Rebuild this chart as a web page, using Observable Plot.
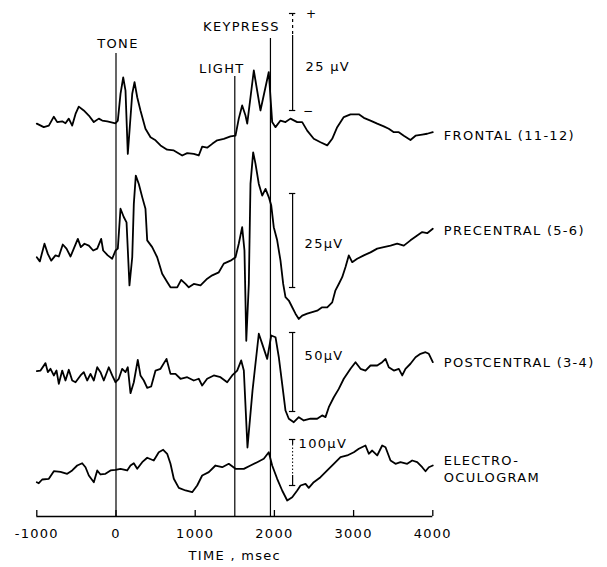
<!DOCTYPE html>
<html><head><meta charset="utf-8">
<script src="https://cdn.jsdelivr.net/npm/d3@7"></script>
<script src="https://cdn.jsdelivr.net/npm/@observablehq/plot@0.6"></script>
<style>
html,body{margin:0;padding:0;background:#fff}
#chart svg{display:block}
#chart svg text{letter-spacing:1.3px}
</style></head><body><div id="chart"></div>
<script>
// ---- data ----
const xTicks = [-1000, 0, 1000, 2000, 3000, 4000];
const eventTimes = [0, 1500, 1950];
const eventLabels = ["TONE", "LIGHT", "KEYPRESS"];
const channelNames = [["FRONTAL (11-12)"], ["PRECENTRAL (5-6)"], ["POSTCENTRAL (3-4)"], ["ELECTRO-", "OCULOGRAM"]];
const calibUv = [25, 25, 50, 100];
const calibText = ["25 μV", "25μV", "50μV", "100μV"];

// [time ms, µV]
const frontal = [[-1000,-0.3],[-912,-1.2],[-848,-0.8],[-785,1.5],[-742,0.1],[-679,0.3],[-638,-0.2],[-596,1.0],[-553,-0.8],[-511,2.2],[-470,4.1],[-407,3.1],[-343,1.8],[-280,0.1],[-217,1.0],[-174,0.5],[-111,0.3],[-6,-0.2],[23,0.5],[57,7.4],[91,11.6],[120,8.2],[149,-8.1],[174,-1.2],[205,7.4],[234,10.4],[268,6.5],[309,3.1],[372,-1.6],[436,-3.8],[499,-4.6],[562,-5.9],[646,-7.0],[730,-7.2],[836,-8.5],[899,-7.9],[982,-8.1],[1045,-8.5],[1088,-6.2],[1151,-6.5],[1215,-5.5],[1278,-4.6],[1361,-4.2],[1446,-3.6],[1509,-3.4],[1550,1.0],[1593,4.4],[1635,1.8],[1657,-0.3],[1740,13.4],[1824,3.1],[1929,13.0],[1972,0.1],[2014,-1.2],[2077,0.5],[2140,0.1],[2203,1.0],[2288,0.1],[2351,0.1],[2414,-2.1],[2497,-4.2],[2582,-5.1],[2667,-5.9],[2730,-4.2],[2793,-1.2],[2876,1.4],[2961,2.1],[3066,2.1],[3129,1.2],[3213,0.5],[3298,-0.3],[3381,-1.0],[3444,-1.6],[3508,-2.5],[3571,-2.5],[3634,-3.4],[3718,-4.5],[3782,-3.4],[3866,-3.1],[3929,-2.9],[4000,-2.5]];

const precentral = [[-1000,-1.8],[-962,-2.9],[-903,1.8],[-861,-0.9],[-818,-2.7],[-764,-1.3],[-722,-1.6],[-672,1.6],[-625,0.5],[-574,-1.6],[-533,0.5],[-482,3.1],[-444,0.9],[-398,1.8],[-343,1.3],[-288,0],[-237,0.5],[-187,3.1],[-162,0],[-104,-1.3],[-48,-2.2],[-6,0],[23,0.5],[57,11.1],[98,8.9],[133,7.5],[170,-9.3],[205,-1.8],[225,12.4],[250,19.9],[288,17.7],[331,14.2],[372,11.1],[394,2.7],[457,0.9],[520,-1.8],[583,-6.2],[646,-8.4],[688,-9.8],[773,-9.8],[823,-7.8],[878,-8.9],[919,-9.8],[982,-8.9],[1067,-9.3],[1152,-7.5],[1215,-6.6],[1298,-5.8],[1361,-3.5],[1446,-2.7],[1509,-1.8],[1550,1.8],[1593,6.2],[1622,0],[1645,-24],[1677,-8.9],[1698,17.7],[1732,26.1],[1761,23.1],[1803,17.7],[1846,14.6],[1888,16.4],[1929,14.2],[1960,12.0],[1992,6.2],[2035,2.7],[2077,-2.7],[2111,-8.9],[2140,-12.4],[2182,-13.3],[2225,-15.1],[2266,-16.8],[2308,-18.2],[2351,-17.3],[2414,-16.8],[2477,-16.4],[2540,-16.0],[2603,-15.1],[2667,-15.1],[2730,-13.8],[2771,-10.6],[2813,-8.9],[2856,-7.1],[2898,-4.4],[2939,-1.3],[2982,-3.1],[3045,-2.2],[3129,-1.3],[3213,-0.5],[3298,0.5],[3381,0.9],[3466,1.3],[3550,1.8],[3634,1.3],[3718,2.7],[3803,4.0],[3866,4.9],[3929,4.6],[4000,5.8]];

const postcentral = [[-1000,2.1],[-953,2.5],[-890,7.2],[-861,1.5],[-827,3.6],[-785,-0.6],[-751,2.5],[-722,-5.9],[-679,2.5],[-638,-3.8],[-596,3.0],[-553,-3.8],[-511,-4.9],[-448,-0.6],[-407,1.5],[-364,-3.8],[-322,0.4],[-280,-3.8],[-237,4.6],[-196,1.5],[-154,-3.8],[-91,4.6],[-48,-0.6],[-6,-4.9],[35,-2.7],[78,3.6],[120,1.5],[149,4.6],[183,-11.8],[225,-4.9],[275,9.3],[309,-0.6],[351,-3.8],[394,-8.4],[444,-7.6],[499,2.5],[562,3.6],[638,9.9],[688,0.4],[751,0.4],[814,-2.7],[899,-1.7],[982,-3.8],[1045,-2.7],[1088,-7.0],[1151,-2.7],[1235,-0.6],[1319,-1.7],[1404,-4.9],[1467,-0.6],[1530,2.5],[1581,8.9],[1614,2.5],[1660,-46.2],[1724,-10],[1803,25.8],[1846,19.4],[1909,9.9],[1960,24.7],[2014,23.6],[2056,10.9],[2098,-5.9],[2140,-22.8],[2182,-28.0],[2245,-30.2],[2308,-27.0],[2371,-29.1],[2456,-28.0],[2540,-28.0],[2603,-25.9],[2645,-27.0],[2687,-20.7],[2750,-14.4],[2813,-9.1],[2876,-2.7],[2961,3.6],[3024,7.8],[3087,3.6],[3150,2.5],[3213,5.7],[3298,5.7],[3361,7.8],[3403,9.9],[3444,4.6],[3508,2.5],[3571,3.6],[3614,-0.6],[3655,3.6],[3718,6.8],[3782,10.9],[3845,13.1],[3908,14.1],[3950,13.1],[4000,7.8]];

const eog = [[-1000,-29.8],[-975,-32.0],[-932,-23.9],[-848,-22.4],[-785,-5.9],[-701,-7.2],[-616,-11.5],[-553,-4.3],[-490,6.5],[-427,11.5],[-385,2.8],[-343,-15.2],[-280,-29.8],[-237,-4.3],[-196,-13.0],[-133,-11.5],[-69,-4.3],[-6,-2.8],[57,-0.7],[141,-4.3],[183,6.5],[225,11.5],[268,-0.7],[331,13.7],[394,23.3],[477,17.4],[540,35.4],[596,40.7],[646,32.0],[688,10.2],[730,-22.4],[793,-42.0],[878,-47.8],[962,-51.5],[1025,-37.0],[1088,-15.2],[1172,-8.0],[1256,6.5],[1341,2.8],[1424,10.2],[1509,-0.7],[1614,-0.7],[1698,6.5],[1783,13.7],[1866,21.1],[1929,35.4],[1972,6.5],[2035,-22.4],[2098,-47.8],[2162,-69.6],[2225,-62.4],[2288,-47.8],[2330,-37.0],[2393,-33.3],[2434,-42.0],[2497,-29.8],[2582,-18.9],[2667,-4.3],[2750,10.2],[2835,24.6],[2919,28.3],[3003,35.4],[3066,42.8],[3150,50.0],[3192,32.0],[3235,39.1],[3298,28.3],[3361,50.0],[3403,46.3],[3466,17.4],[3529,10.2],[3592,13.7],[3677,10.2],[3740,17.4],[3803,13.7],[3866,2.8],[3908,-5.9],[3950,2.8],[4000,6.5]];

const traces = [frontal, precentral, postcentral, eog];

// ---- layout (pixel rows on the page) ----
const W = 607, H = 567;
const axisY = 516;
const baseRow = [122, 250, 374, 468];
const barTop = [13, 193, 332, 439];
const barBottom = [110, 287, 411, 485];
const calibTime = 2230;
const eventTop = [53, 76, 38];
const eventLabelY = [43, 68, 26];
const eventLabelDx = [2, -13, -29];
const labelRows = [[135], [230], [362], [460, 477]];
const calibTextY = [66, 243, 355, 443];
const calibTextDx = [13, 12, 12, 6];

const gain = calibUv.map((u, i) => (barBottom[i] - barTop[i]) / u);

const marks = [];
// axis
marks.push(Plot.ruleY([axisY], {x1: -1000, x2: 4000, stroke: "#000", strokeWidth: 1.3}));
marks.push(Plot.ruleX(xTicks, {x: d => d, y1: axisY, y2: axisY - 6, stroke: "#000", strokeWidth: 1.3}));
marks.push(Plot.axisX({ticks: xTicks, tickSize: 0, tickPadding: 12, tickFormat: d => String(d), fontSize: 13, label: null}));
marks.push(Plot.text(["TIME , msec"], {x: 1500, y: 555, text: d => d, fontSize: 13}));

// events
eventTimes.forEach((t, i) => {
  marks.push(Plot.ruleX([t], {x: d => d, y1: eventTop[i], y2: axisY, stroke: "#000", strokeWidth: 1.2}));
  marks.push(Plot.text([eventLabels[i]], {x: t, y: eventLabelY[i], text: d => d, dx: eventLabelDx[i], fontSize: 13}));
});

// traces, calibration bars, labels
traces.forEach((tr, i) => {
  const g = gain[i], b = baseRow[i];
  marks.push(Plot.line(tr, {x: d => d[0], y: d => b - d[1] * g, stroke: "#000", strokeWidth: 1.8, strokeLinejoin: "round"}));
  channelNames[i].forEach((name, j) => {
    marks.push(Plot.text([name], {x: 4000, y: labelRows[i][j], text: d => d, textAnchor: "start", dx: 11, fontSize: 13}));
  });
  const capW = 40;
  marks.push(Plot.ruleY([barTop[i], barBottom[i]], {y: d => d, x1: calibTime - capW, x2: calibTime + capW, stroke: "#000", strokeWidth: 1.2}));
  if (i === 0) {
    marks.push(Plot.ruleX([calibTime], {x: d => d, y1: barTop[i], y2: barTop[i] + 22, stroke: "#000", strokeWidth: 1.2, strokeDasharray: "3,3"}));
    marks.push(Plot.ruleX([calibTime], {x: d => d, y1: barTop[i] + 22, y2: barBottom[i], stroke: "#000", strokeWidth: 1.2}));
    marks.push(Plot.text(["+"], {x: calibTime, y: barTop[i] + 1, text: d => d, dx: 19, fontSize: 12}));
    marks.push(Plot.text(["−"], {x: calibTime, y: barBottom[i] + 1, text: d => d, dx: 16, fontSize: 12}));
  } else if (i === 3) {
    marks.push(Plot.ruleX([calibTime], {x: d => d, y1: barTop[i], y2: barTop[i] + 5, stroke: "#000", strokeWidth: 1.2}));
    marks.push(Plot.ruleX([calibTime], {x: d => d, y1: barTop[i] + 5, y2: barBottom[i] - 10, stroke: "#000", strokeWidth: 1, strokeDasharray: "1.5,2"}));
    marks.push(Plot.ruleX([calibTime], {x: d => d, y1: barBottom[i] - 10, y2: barBottom[i], stroke: "#000", strokeWidth: 1.2}));
  } else {
    marks.push(Plot.ruleX([calibTime], {x: d => d, y1: barTop[i], y2: barBottom[i], stroke: "#000", strokeWidth: 1.2}));
  }
  marks.push(Plot.text([calibText[i]], {x: calibTime, y: calibTextY[i], text: d => d, textAnchor: "start", dx: calibTextDx[i], fontSize: 13}));
});

const chart = Plot.plot({
  width: W, height: H,
  marginLeft: 36.3, marginRight: W - 432.3, marginTop: 0, marginBottom: H - axisY,
  x: {domain: [-1000, 4000], axis: null},
  y: {domain: [axisY, 0], axis: null},
  style: {fontFamily: "'DejaVu Sans', sans-serif", fontSize: "13px", color: "#000", background: "#fff"},
  marks
});
document.getElementById("chart").appendChild(chart);
</script></body></html>
